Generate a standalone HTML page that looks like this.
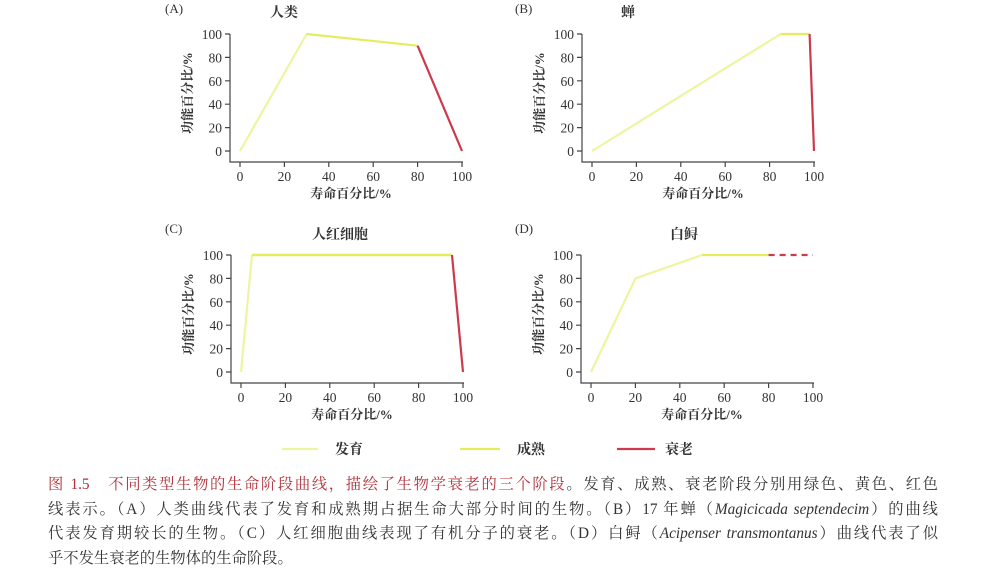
<!DOCTYPE html>
<html><head><meta charset="utf-8"><style>
body{margin:0;background:#fff;width:981px;height:573px;overflow:hidden}
svg{position:absolute;left:0;top:0}
text{font-family:"Liberation Serif","Noto Serif CJK SC",serif;fill:#333}
.cap{position:absolute;left:48px;top:473px;width:890px;font-family:"Liberation Serif","Noto Serif CJK SC",serif;font-size:15.3px;line-height:24.5px;color:#333}
.cap div{text-align:justify;text-align-last:justify;white-space:nowrap}
.cap div.last{text-align-last:left}
.cap b{color:#b0303a;font-weight:normal}
</style></head><body>
<svg width="981" height="573" viewBox="0 0 981 573">
<defs>
<g id="ax" stroke="#444" stroke-width="1.2" fill="none">
<path d="M-10 -117V11H223"/>
<path d="M-10 0h-5M-10 -23.4h-5M-10 -46.8h-5M-10 -70.2h-5M-10 -93.6h-5M-10 -117h-5"/>
<path d="M0 11v5M44.4 11v5M88.8 11v5M133.2 11v5M177.6 11v5M222 11v5"/>
</g>
<g id="lb" font-size="13.5">
<g text-anchor="end"><text x="-18" y="5">0</text><text x="-18" y="-18.4">20</text><text x="-18" y="-41.8">40</text><text x="-18" y="-65.2">60</text><text x="-18" y="-88.6">80</text><text x="-18" y="-112">100</text></g>
<g text-anchor="middle"><text x="0" y="30">0</text><text x="44.4" y="30">20</text><text x="88.8" y="30">40</text><text x="133.2" y="30">60</text><text x="177.6" y="30">80</text><text x="222" y="30">100</text>
<text x="111" y="47" font-size="13" font-weight="bold">寿命百分比/%</text>
<text transform="translate(-48,-58) rotate(-90)" font-size="13" font-weight="bold">功能百分比/%</text></g>
</g>
</defs>
<g font-size="13">
<text x="165" y="13">(A)</text><text x="515" y="13">(B)</text>
<text x="165" y="233">(C)</text><text x="515" y="233">(D)</text>
<g text-anchor="middle" font-weight="bold" font-size="14"><text x="284" y="17">人类</text><text x="628" y="17">蝉</text><text x="340" y="239">人红细胞</text><text x="684" y="239">白鲟</text></g>
</g>
<g transform="translate(240,151)"><use href="#ax"/><use href="#lb"/>
<g fill="none" stroke-width="2.2" stroke-linejoin="round">
<path d="M0 0L66.6 -117" stroke="#eef5a0"/>
<path d="M66.6 -117L177.6 -105.3" stroke="#e6ec60"/>
<path d="M177.6 -105.3L222 0" stroke="#cc3a4c"/></g></g>
<g transform="translate(592,151)"><use href="#ax"/><use href="#lb"/>
<g fill="none" stroke-width="2.2">
<path d="M0 0L188.7 -117" stroke="#eef5a0"/>
<path d="M188.7 -117L217.6 -117" stroke="#e6ec60"/>
<path d="M217.6 -117L222 0" stroke="#cc3a4c"/></g></g>
<g transform="translate(241,372)"><use href="#ax"/><use href="#lb"/>
<g fill="none" stroke-width="2.2">
<path d="M0 0L11 -117" stroke="#eef5a0"/>
<path d="M11 -117L211 -117" stroke="#e6ec60" stroke-width="2.6"/>
<path d="M211 -117L222 0" stroke="#cc3a4c"/></g></g>
<g transform="translate(591,372)"><use href="#ax"/><use href="#lb"/>
<g fill="none" stroke-width="2.2">
<path d="M0 0L44.4 -93.6L111 -117" stroke="#eef5a0"/>
<path d="M111 -117L177.6 -117" stroke="#e6ec60"/>
<path d="M177.6 -117L222 -117" stroke="#cc3a4c" stroke-dasharray="6 5"/></g></g>
<g stroke-width="2.2">
<line x1="282" y1="449" x2="318" y2="449" stroke="#eef5a0"/>
<line x1="460" y1="449" x2="500" y2="449" stroke="#e6ec60"/>
<line x1="617" y1="449" x2="655" y2="449" stroke="#cc3a4c"/>
</g>
<g font-size="14" font-weight="bold"><text x="335" y="454">发育</text><text x="517" y="454">成熟</text><text x="665" y="454">衰老</text></g>
</svg>
<div class="cap">
<div><b>图 1.5　不同类型生物的生命阶段曲线，描绘了生物学衰老的三个阶段</b>。发育、成熟、衰老阶段分别用绿色、黄色、红色</div>
<div>线表示。（A）人类曲线代表了发育和成熟期占据生命大部分时间的生物。（B）17 年蝉（<i>Magicicada septendecim</i>）的曲线</div>
<div>代表发育期较长的生物。（C）人红细胞曲线表现了有机分子的衰老。（D）白鲟（<i>Acipenser transmontanus</i>）曲线代表了似</div>
<div class="last">乎不发生衰老的生物体的生命阶段。</div>
</div>
</body></html>
